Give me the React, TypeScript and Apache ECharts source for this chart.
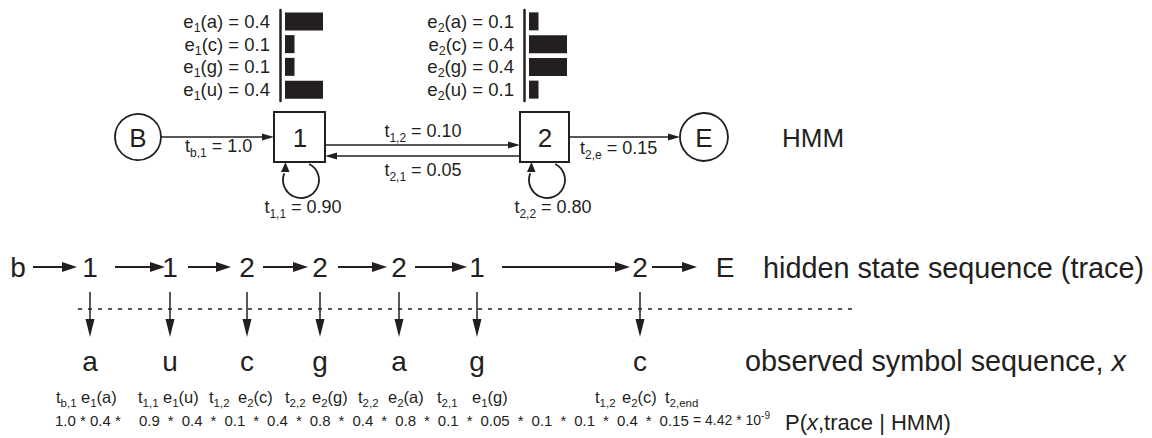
import React, { useEffect, useRef } from "react";
import * as echarts from "echarts";

// ---------- data ----------
const SYMBOLS = ["a", "c", "g", "u"];
const EMIT_1 = [0.4, 0.1, 0.1, 0.4];
const EMIT_2 = [0.1, 0.4, 0.4, 0.1];
const TRANS_KEYS = ["b,1", "1,1", "1,2", "2,1", "2,2", "2,e"];
const TRANS_P = [1.0, 0.9, 0.1, 0.05, 0.8, 0.15];
const TRACE = [1, 1, 2, 2, 2, 1, 2];
const OBSERVED = ["a", "u", "c", "g", "a", "g", "c"];

// ---------- layout ----------
const INK = "#231f20";
const FONT = "'Liberation Sans', Arial, Helvetica, sans-serif";
const COL_X = [90, 170, 247, 320, 399, 477, 640];
const ARROW_SPANS = [
  [33, 77], [115, 165], [188, 231], [263, 308], [338, 387], [415, 467], [502, 630], [652, 697],
];
const TERM_X = [56, 81, 138, 163, 209, 238, 285, 312, 358, 388, 437, 472, 595, 622, 665];

const tp = (key: string) => TRANS_P[TRANS_KEYS.indexOf(key)];
const emit = (state: number, sym: string) =>
  (state === 1 ? EMIT_1 : EMIT_2)[SYMBOLS.indexOf(sym)];
const fmtFactor = (v: number) => (v === 1 ? "1.0" : String(v));

function buildTerms() {
  const factors: number[] = [];
  const labels: string[] = [];
  TRACE.forEach((s, i) => {
    const prev = i === 0 ? "b" : String(TRACE[i - 1]);
    const key = `${prev},${s}`;
    factors.push(tp(key));
    labels.push(`t{s|${key}}`);
    factors.push(emit(s, OBSERVED[i]));
    labels.push(`e{s|${s}}(${OBSERVED[i]})`);
  });
  const last = TRACE[TRACE.length - 1];
  factors.push(tp(`${last},e`));
  labels.push(`t{s|${last},end}`);
  return { factors, labels };
}

function txt(x: number, y: number, text: string, o: any = {}) {
  const fontSize = o.fontSize ?? 18;
  return {
    type: "text",
    x,
    y,
    silent: true,
    style: {
      text,
      fill: INK,
      fontSize,
      fontFamily: FONT,
      fontStyle: o.fontStyle,
      align: o.align ?? "left",
      textAlign: o.align ?? "left",
      verticalAlign: "middle",
      textVerticalAlign: "middle",
      lineHeight: o.lineHeight ?? Math.round(fontSize * 1.45),
      rich: o.rich,
    },
  };
}

const line = (x1: number, y1: number, x2: number, y2: number, lw = 1.5, dash?: number[]) => ({
  type: "line",
  silent: true,
  shape: { x1, y1, x2, y2 },
  style: { stroke: INK, lineWidth: lw, lineDash: dash },
});
const poly = (pts: number[][]) => ({
  type: "polygon",
  silent: true,
  shape: { points: pts },
  style: { fill: INK },
});
function hArrow(x1: number, x2: number, y: number, lw: number, hl: number, hw: number) {
  const dir = x2 > x1 ? 1 : -1;
  const base = x2 - dir * hl;
  return [line(x1, y, base + dir, y, lw), poly([[x2, y], [base, y - hw], [base, y + hw]])];
}

const subRich = (size: number) => ({
  s: { fontSize: size, lineHeight: size, verticalAlign: "bottom", fontFamily: FONT, fill: INK },
});

export default function App() {
  const ref = useRef<HTMLDivElement>(null);
  useEffect(() => {
    if (!ref.current) return;
    const chart = echarts.init(ref.current, undefined, { renderer: "svg" });
    const { factors, labels } = buildTerms();
    const product = factors.reduce((a, b) => a * b, 1);
    const exp = Math.floor(Math.log10(product));
    const mant = (product / Math.pow(10, exp)).toFixed(2);

    const g: any[] = [];
    const tLabel = (key: string) => `t{s|${key}} = ${tp(key) === 1 ? "1.0" : tp(key).toFixed(2)}`;

    // ---- HMM diagram ----
    g.push(...hArrow(161, 274, 137, 1.5, 12, 3.5));
    g.push(...hArrow(325, 520, 145, 1.5, 12, 3.5));
    g.push(...hArrow(520, 325, 156, 1.5, 12, 3.5));
    g.push(...hArrow(569, 680, 137, 1.5, 12, 3.5));
    [301, 547].forEach((cx) => {
      g.push({
        type: "arc",
        silent: true,
        shape: { cx, cy: 180, r: 18, startAngle: -1.1, endAngle: Math.PI * 1.12, clockwise: true },
        style: { stroke: INK, lineWidth: 1.8, fill: "none" },
      });
      g.push(poly([[cx - 15.5, 162], [cx - 20, 172], [cx - 11.5, 172]]));
    });
    g.push({ type: "circle", silent: true, shape: { cx: 138, cy: 137, r: 23 }, style: { stroke: INK, lineWidth: 1.8, fill: "#fff" } });
    g.push({ type: "circle", silent: true, shape: { cx: 704, cy: 137, r: 24 }, style: { stroke: INK, lineWidth: 1.8, fill: "#fff" } });
    g.push({ type: "rect", silent: true, shape: { x: 274, y: 112, width: 51, height: 50 }, style: { stroke: INK, lineWidth: 2, fill: "#fff" } });
    g.push({ type: "rect", silent: true, shape: { x: 520, y: 112, width: 49, height: 50 }, style: { stroke: INK, lineWidth: 2, fill: "#fff" } });
    g.push(txt(138, 138, "B", { fontSize: 26, align: "center" }));
    g.push(txt(704, 138, "E", { fontSize: 26, align: "center" }));
    g.push(txt(300, 138, "1", { fontSize: 26, align: "center" }));
    g.push(txt(545, 138, "2", { fontSize: 26, align: "center" }));
    g.push(txt(782, 138, "HMM", { fontSize: 26 }));

    const lab = (x: number, y: number, key: string, align = "left") =>
      txt(x, y, tLabel(key), { fontSize: 18, lineHeight: 26, rich: subRich(12), align });
    g.push(lab(185, 146, "b,1"));
    g.push(lab(423, 131, "1,2", "center"));
    g.push(lab(423, 170, "2,1", "center"));
    g.push(lab(303, 207, "1,1", "center"));
    g.push(lab(553, 207, "2,2", "center"));
    g.push(lab(580, 148, "2,e"));

    // ---- hidden state sequence ----
    const ROW2 = 267;
    const BIG = 28;
    g.push(txt(18, ROW2, "b", { fontSize: BIG, align: "center" }));
    TRACE.forEach((s, i) => g.push(txt(COL_X[i], ROW2, String(s), { fontSize: BIG, align: "center" })));
    g.push(txt(725, ROW2, "E", { fontSize: BIG, align: "center" }));
    ARROW_SPANS.forEach(([a, b]) => g.push(...hArrow(a, b, ROW2, 2, 15, 5)));
    g.push(txt(763, ROW2 + 1, "hidden state sequence (trace)", { fontSize: 28.8 }));

    g.push(line(78, 309, 852, 309, 1.5, [4, 6]));
    COL_X.forEach((x) => {
      g.push(line(x, 292, x, 322, 1.5));
      g.push(poly([[x, 337], [x - 4.5, 319], [x + 4.5, 319]]));
    });

    // ---- observed symbols ----
    OBSERVED.forEach((c, i) => g.push(txt(COL_X[i], 361, c, { fontSize: BIG, align: "center" })));
    g.push(
      txt(745, 361, "observed symbol sequence, {i|x}", {
        fontSize: 28.8,
        rich: { i: { fontSize: 28.8, fontStyle: "italic", fontFamily: FONT, fill: INK } },
      })
    );

    // ---- term labels ----
    labels.forEach((l, i) =>
      g.push(txt(TERM_X[i], 397, l, { fontSize: 16.5, lineHeight: 23, rich: subRich(11.5) }))
    );

    // ---- products ----
    const first = factors.slice(0, 2).map(fmtFactor).join(" * ") + " *";
    g.push(txt(55, 420, first, { fontSize: 15 }));
    const rest = factors.slice(2).map(fmtFactor).join("{m|*}");
    g.push(
      txt(139, 420, rest, {
        fontSize: 15,
        rich: { m: { fontSize: 15, fontFamily: FONT, fill: INK, padding: [0, 8, 0, 8] } },
      })
    );
    g.push(
      txt(693, 420, `= ${mant} * 10{p|${exp}}`, {
        fontSize: 14,
        lineHeight: 20,
        rich: { p: { fontSize: 10, lineHeight: 10, verticalAlign: "top", fontFamily: FONT, fill: INK } },
      })
    );
    g.push(
      txt(785, 422, "P({i|x},trace | HMM)", {
        fontSize: 22,
        rich: { i: { fontSize: 22, fontStyle: "italic", fontFamily: FONT, fill: INK } },
      })
    );

    const emitAxis = (state: number, values: number[], gi: number) => ({
      type: "category",
      gridIndex: gi,
      data: SYMBOLS,
      inverse: true,
      offset: 5,
      axisLine: { show: true, onZero: false, lineStyle: { color: INK, width: 2.5 } },
      axisTick: { show: false },
      splitLine: { show: false },
      axisLabel: {
        interval: 0,
        margin: 10,
        fontSize: 18.5,
        lineHeight: 26,
        fontFamily: FONT,
        color: INK,
        formatter: (v: string, idx: number) => `e{s|${state}}(${v}) = ${values[idx]}`,
        rich: subRich(12.5),
      },
    });
    const valAxis = (gi: number) => ({
      type: "value",
      gridIndex: gi,
      min: 0,
      max: 0.5,
      show: false,
      splitLine: { show: false },
    });

    chart.setOption({
      animation: false,
      backgroundColor: "#fff",
      grid: [
        { left: 285, top: 10, width: 47.5, height: 91 },
        { left: 529, top: 10, width: 47.5, height: 91 },
      ],
      xAxis: [valAxis(0), valAxis(1)],
      yAxis: [emitAxis(1, EMIT_1, 0), emitAxis(2, EMIT_2, 1)],
      series: [
        { type: "bar", xAxisIndex: 0, yAxisIndex: 0, data: EMIT_1, barWidth: 18, itemStyle: { color: INK } },
        { type: "bar", xAxisIndex: 1, yAxisIndex: 1, data: EMIT_2, barWidth: 18, itemStyle: { color: INK } },
      ],
      graphic: g,
    });
    return () => chart.dispose();
  }, []);
  return <div ref={ref} style={{ width: 1152, height: 438, position: "absolute", left: 0, top: 0 }} />;
}
